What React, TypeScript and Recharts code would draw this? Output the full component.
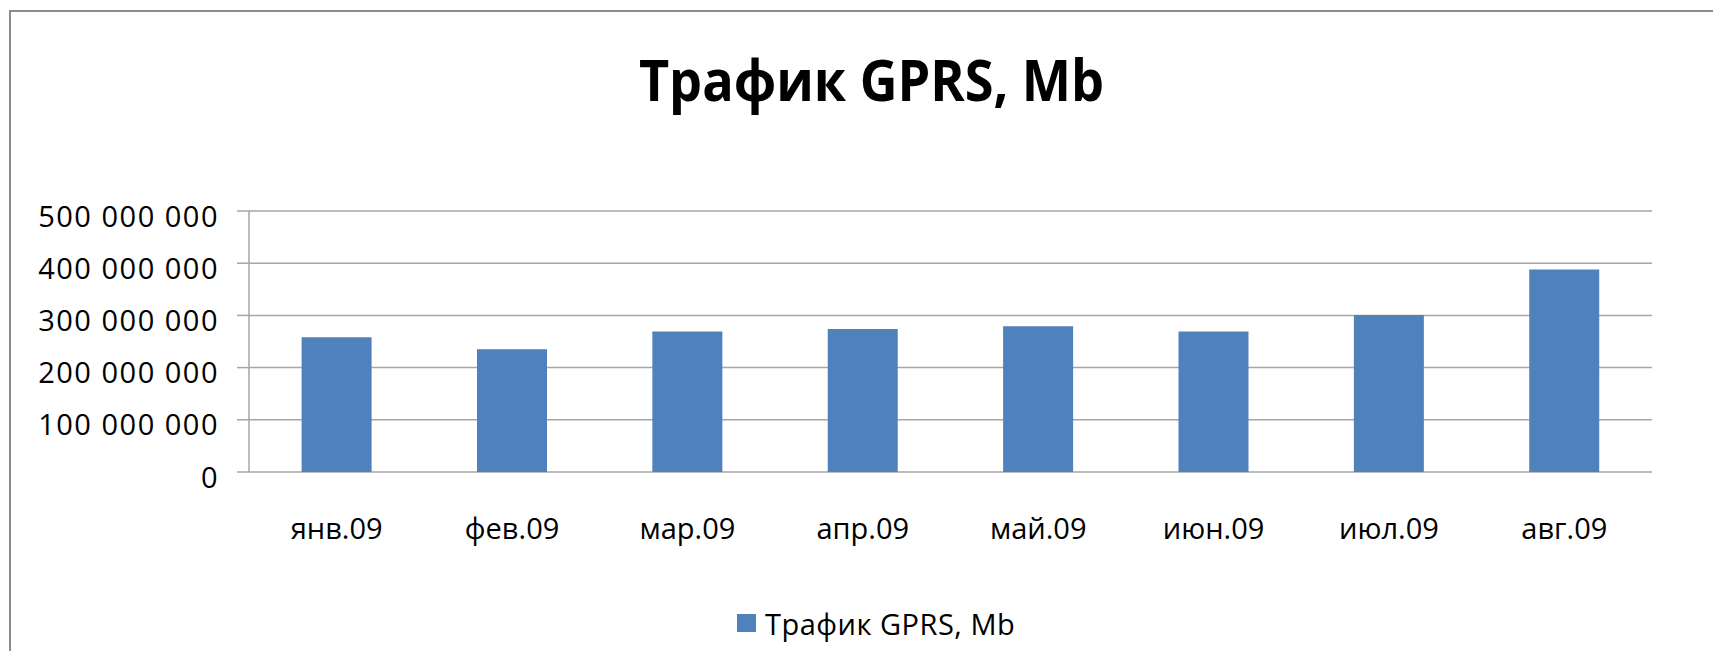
import React from 'react';
import { BarChart, Bar, XAxis, YAxis, CartesianGrid } from 'recharts';

const MONTHS = ['янв.09', 'фев.09', 'мар.09', 'апр.09', 'май.09', 'июн.09', 'июл.09', 'авг.09'];
const TRAFFIC = [258000000, 235000000, 269000000, 274000000, 279000000, 269000000, 301000000, 388000000];
const Y_TICKS = [0, 100000000, 200000000, 300000000, 400000000, 500000000];
const EDGE_TICKS = [0, 1, 2, 3, 4, 5, 6, 7, 8];
const TITLE = 'Трафик GPRS, Mb';
const SERIES_NAME = 'Трафик GPRS, Mb';

const BLUE = '#4f81bd';
const GRID = '#a6a6a6';
const FONT = '"Open Sans", sans-serif';

const data = MONTHS.map((m, i) => ({ month: m, value: TRAFFIC[i] }));

// 500000000 -> "500 000 000"
const fmt = (v: number) => String(v).replace(/\B(?=(\d{3})+(?!\d))/g, ' ');

const YTick = (props: any) => {
  const { x, y, payload } = props;
  return (
    <text x={x} y={y} dy={15.5} textAnchor="end" fill="#000" fontSize={29} fontFamily={FONT} letterSpacing={1.5}>
      {fmt(payload.value)}
    </text>
  );
};

const XTick = (props: any) => {
  const { x, y, payload } = props;
  return (
    <text x={x} y={y} dy={67} textAnchor="middle" fill="#000" fontSize={29} fontFamily={FONT}>
      {payload.value}
    </text>
  );
};

export default function App() {
  return (
    <div style={{ position: 'relative', width: 1705, height: 643, overflow: 'hidden', background: '#fff' }}>
      {/* рамка диаграммы (обрезана справа и снизу) */}
      <div
        style={{
          position: 'absolute',
          left: 1,
          top: 2,
          right: -10,
          bottom: -10,
          borderLeft: '2px solid #8c8c8c',
          borderTop: '2px solid #8c8c8c',
        }}
      />
      <div
        style={{
          position: 'absolute',
          left: 0,
          right: 0,
          top: 42,
          textAlign: 'center',
          fontFamily: FONT,
          fontWeight: 700,
          fontSize: 58,
          lineHeight: 1,
          color: '#000',
          transform: 'translateX(11px) scaleX(0.9)',
        }}
      >
        {TITLE}
      </div>

      <div style={{ position: 'absolute', left: 0, top: 0 }}>
        <BarChart width={1705} height={643} data={data} margin={{ top: 203, right: 61, left: 0, bottom: 0 }} barCategoryGap="30%">
          <CartesianGrid vertical={false} stroke={GRID} strokeWidth={1.5} xAxisId="cat" />
          <XAxis
            xAxisId="edges"
            type="number"
            domain={[0, 8]}
            ticks={EDGE_TICKS}
            allowDataOverflow
            tick={false}
            tickSize={11}
            tickLine={{ stroke: GRID, strokeWidth: 1.5 }}
            axisLine={{ stroke: GRID, strokeWidth: 1.5 }}
            height={0}
          />
          <XAxis
            xAxisId="cat"
            dataKey="month"
            axisLine={false}
            tickLine={false}
            tickSize={0}
            tickMargin={0}
            tick={<XTick />}
            interval={0}
            height={179}
          />
          <YAxis
            domain={[0, 500000000]}
            ticks={Y_TICKS}
            width={241}
            tickSize={12}
            tickMargin={18}
            tick={<YTick />}
            tickLine={{ stroke: GRID, strokeWidth: 1.5 }}
            axisLine={{ stroke: GRID, strokeWidth: 1.5 }}
          />
          <Bar dataKey="value" xAxisId="cat" fill={BLUE} name={SERIES_NAME} isAnimationActive={false} />
        </BarChart>
      </div>

      {/* легенда */}
      <div
        style={{
          position: 'absolute',
          left: 729,
          top: 601,
          display: 'flex',
          alignItems: 'flex-start',
          fontFamily: FONT,
          fontSize: 29,
          lineHeight: 1,
          letterSpacing: 0.5,
          color: '#000',
        }}
      >
        <span style={{ display: 'inline-block', width: 19, height: 18, marginTop: 5, background: BLUE }} />
        <span style={{ marginLeft: 9 }}>{SERIES_NAME}</span>
      </div>
    </div>
  );
}
